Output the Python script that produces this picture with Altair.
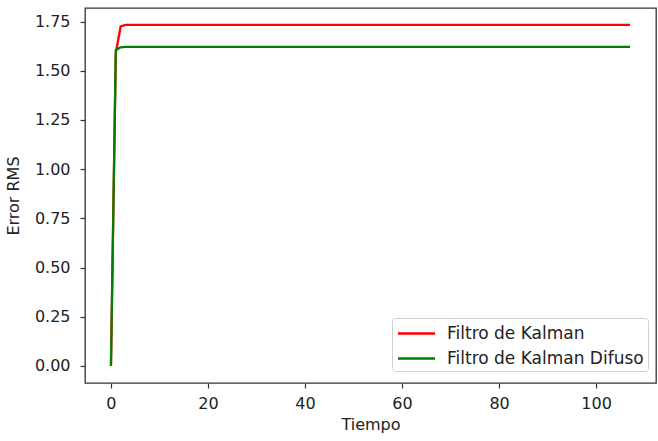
import altair as alt
import pandas as pd

tiempo = list(range(108))
kalman = [0.0, 1.59, 1.725] + [1.733] * 105
difuso = [0.0, 1.605, 1.619] + [1.621] * 105
series_names = ["Filtro de Kalman", "Filtro de Kalman Difuso"]
colors = ["#ff0000", "#008000"]
y_ticks = [0.0, 0.25, 0.5, 0.75, 1.0, 1.25, 1.5, 1.75]
x_ticks = [0, 20, 40, 60, 80, 100]

df = pd.concat([
    pd.DataFrame({"Tiempo": tiempo, "Error": kalman, "Serie": series_names[0]}),
    pd.DataFrame({"Tiempo": tiempo, "Error": difuso, "Serie": series_names[1]}),
])

font = "DejaVu Sans"
fs = 16

chart = alt.Chart(df).mark_line(strokeWidth=2.3, clip=True).encode(
    x=alt.X("Tiempo:Q", scale=alt.Scale(domain=[-5.35, 112.35], nice=False, zero=False),
            axis=alt.Axis(values=x_ticks, title="Tiempo", format="d")),
    y=alt.Y("Error:Q", scale=alt.Scale(domain=[-0.0866, 1.8186], nice=False, zero=False),
            axis=alt.Axis(values=y_ticks, title="Error RMS", format=".2f")),
    color=alt.Color("Serie:N", scale=alt.Scale(domain=series_names, range=colors),
                    legend=alt.Legend(title=None, orient="none", legendX=307, legendY=310,
                                      symbolType="M-1.85,0H1.85", symbolSize=400,
                                      symbolStrokeWidth=2.3, symbolOffset=9,
                                      labelFontSize=17, labelFont=font, labelColor="#222",
                                      labelOffset=19, rowPadding=5, labelLimit=400,
                                      padding=4, strokeColor="#d0d0d0", fillColor="white",
                                      cornerRadius=3)),
).properties(
    width=571, height=375,
    padding={"left": 85, "top": 8, "right": 2, "bottom": 58},
    autosize="none",
).configure_view(
    stroke="#333", strokeWidth=1.3
).configure_axis(
    grid=False, domain=False, tickColor="#333", tickSize=5, tickWidth=1.2,
    labelFont=font, labelFontSize=fs, labelColor="#222", labelPadding=10,
    titleFont=font, titleFontSize=fs, titleFontWeight="normal", titleColor="#222",
).configure_axisY(titlePadding=13).configure_axisX(titlePadding=5, labelPadding=7)

chart.save("out.html", embed_options={"renderer": "svg", "actions": False})
